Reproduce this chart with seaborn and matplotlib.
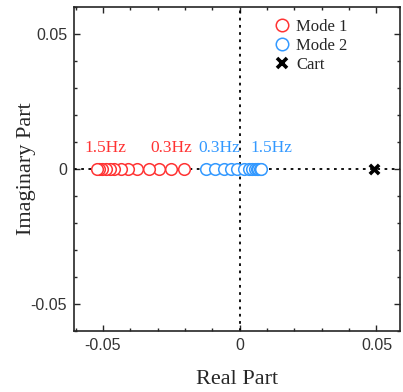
import numpy as np
import pandas as pd
import matplotlib
matplotlib.use("Agg")
import matplotlib.pyplot as plt
import seaborn as sns
from matplotlib.ticker import MultipleLocator
from matplotlib.lines import Line2D

# Data
mode1_real = [-0.0205, -0.0253, -0.0296, -0.0333, -0.0375, -0.0410, -0.0435,
              -0.0458, -0.0475, -0.0490, -0.0503, -0.0513, -0.0522]
mode2_real = [-0.0125, -0.0089, -0.0058, -0.0031, -0.0010, 0.0015, 0.0033,
              0.0045, 0.0055, 0.0062, 0.0068, 0.0073, 0.0076]
cart_real = [0.049]
freq_labels = ["1.5Hz", "0.3Hz", "0.3Hz", "1.5Hz"]
label_x = [-0.049, -0.025, -0.0075, 0.0115]
label_y = 0.0078

red = "#FF3333"
blue = "#3399FF"

sns.set_style("ticks")
plt.rcParams["font.family"] = ["Liberation Serif", "DejaVu Serif"]

fig = plt.figure(figsize=(4.03, 3.92), dpi=100)
ax = fig.add_axes([0.1836, 0.1556, 0.8090, 0.8265])

df1 = pd.DataFrame({"re": mode1_real, "im": np.zeros(len(mode1_real))})
df2 = pd.DataFrame({"re": mode2_real, "im": np.zeros(len(mode2_real))})
df3 = pd.DataFrame({"re": cart_real, "im": np.zeros(len(cart_real))})

ax.axhline(0, color="black", ls=(0, (1.5, 2.5)), lw=1.3, zorder=1)
ax.axvline(0, color="black", ls=(0, (1.5, 2.5)), lw=1.3, zorder=1)

sns.scatterplot(data=df1, x="re", y="im", ax=ax, marker="o", s=70,
                facecolor="white", edgecolor=red, linewidth=1.1, zorder=3)
sns.scatterplot(data=df2, x="re", y="im", ax=ax, marker="o", s=70,
                facecolor="white", edgecolor=blue, linewidth=1.1, zorder=3)
sns.scatterplot(data=df3, x="re", y="im", ax=ax, marker="x", s=45,
                color="black", linewidth=2.6, zorder=4)

for i, (t, x) in enumerate(zip(freq_labels, label_x)):
    ax.text(x, label_y, t, color=red if i < 2 else blue, fontsize=12.5,
            ha="center", va="center")

ax.set_xlim(-0.0606, 0.0586)
ax.set_ylim(-0.0600, 0.0600)
ax.set_xticks([-0.05, 0, 0.05])
ax.set_yticks([-0.05, 0, 0.05])
ax.set_xticklabels(["-0.05", "0", "0.05"])
ax.set_yticklabels(["-0.05", "0", "0.05"])
ax.xaxis.set_minor_locator(MultipleLocator(0.01))
ax.yaxis.set_minor_locator(MultipleLocator(0.01))
ax.tick_params(which="both", direction="in", top=True, right=True, width=1.0)
ax.tick_params(which="major", length=4, labelsize=11.5, pad=5)
ax.tick_params(which="minor", length=2.5)
for lab in ax.get_xticklabels() + ax.get_yticklabels():
    lab.set_family(["Liberation Sans", "DejaVu Sans"])
    lab.set_color("#333333")
for sp in ax.spines.values():
    sp.set_linewidth(1.2)

ax.set_xlabel("Real Part", fontsize=16, labelpad=12)
ax.set_ylabel("Imaginary Part", fontsize=16, labelpad=-4)

handles = [
    Line2D([], [], ls="none", marker="o", markersize=9, markerfacecolor="white",
           markeredgecolor=red, markeredgewidth=1.1, label="Mode 1"),
    Line2D([], [], ls="none", marker="o", markersize=9, markerfacecolor="white",
           markeredgecolor=blue, markeredgewidth=1.1, label="Mode 2"),
    Line2D([], [], ls="none", marker="x", markersize=7, color="black",
           markeredgewidth=2.6, label="Cart"),
]
ax.legend(handles=handles, loc="upper right", frameon=False, fontsize=12,
          handletextpad=0.1, labelspacing=0.2, borderaxespad=0.0,
          handlelength=1.5, bbox_to_anchor=(0.86, 0.985))

fig.savefig("out.png", dpi=100)
